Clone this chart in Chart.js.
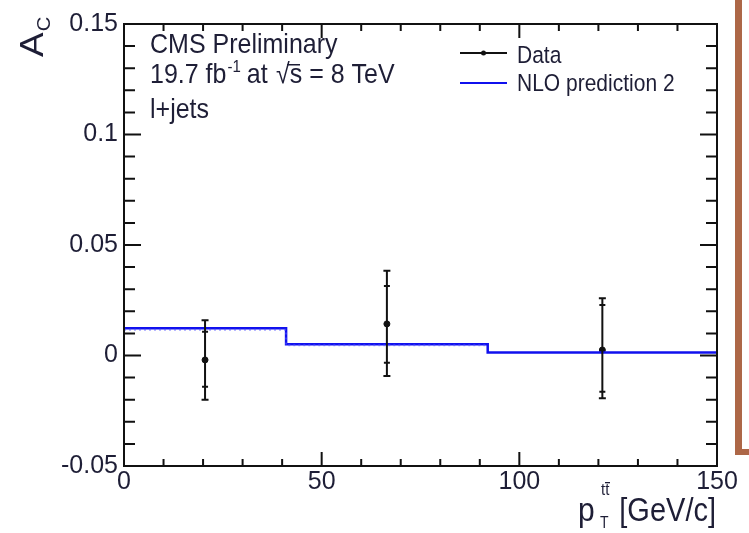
<!DOCTYPE html>
<html>
<head>
<meta charset="utf-8">
<script src="https://cdn.jsdelivr.net/npm/chart.js@4.4.1/dist/chart.umd.min.js"></script>
<style>
  body { margin: 0; background: #fff; }
  #wrap { width: 749px; height: 533px; }
</style>
</head>
<body>
<div id="wrap"><canvas id="acChart" width="749" height="533"></canvas></div>
<script>
    // bins of pT(ttbar) and the NLO prediction per bin
    const binEdges = [0, 41, 92, 150];
    const nloValues = [0.0123, 0.0051, 0.0014];
    const nloShadow = [0.0117, 0.0046];   // faint dotted copy under the first two bins

    // measured points with stat and total uncertainties
    const dataX = [20.5, 66.5, 121];
    const dataY = [-0.002, 0.0143, 0.0025];
    const statLo = [-0.0141, -0.0033, -0.0164];
    const statHi = [0.0108, 0.0314, 0.0229];
    const totLo = [-0.0200, -0.0093, -0.0194];
    const totHi = [0.0160, 0.0384, 0.0259];

    const xTicks = [0, 50, 100, 150];
    const xTickLabels = ['0', '50', '100', '150'];
    const yTicks = [-0.05, 0, 0.05, 0.1, 0.15];
    const yTickLabels = ['-0.05', '0', '0.05', '0.1', '0.15'];

    const FONT = '"Liberation Sans", Arial, sans-serif';
    const TXT = '#1e1e36';

    function stepPoints(edges, vals) {
      const pts = vals.map((v, i) => ({ x: edges[i], y: v }));
      pts.push({ x: edges[vals.length], y: vals[vals.length - 1] });
      return pts;
    }

    // text is a bit taller than plain Arial in the original
    function stretchText(ctx, str, x, y, size, align) {
      ctx.save();
      ctx.translate(x, y);
      ctx.scale(1, 1.12);
      ctx.font = size + 'px ' + FONT;
      ctx.textAlign = align || 'left';
      ctx.textBaseline = 'alphabetic';
      ctx.fillText(str, 0, 0);
      const w = ctx.measureText(str).width;
      ctx.restore();
      return w;
    }

    const framePlugin = {
      id: 'frame',
      afterDraw(chart) {
        const { ctx, chartArea: a, scales: { x, y } } = chart;
        ctx.save();
        ctx.strokeStyle = '#111';
        ctx.lineWidth = 2;
        ctx.strokeRect(a.left, a.top, a.right - a.left, a.bottom - a.top);
        ctx.beginPath();
        for (let v = 0; v <= 150.001; v += 10) {
          const px = x.getPixelForValue(v);
          const len = Math.abs(v % 50) < 0.001 ? 14 : 7;
          ctx.moveTo(px, a.bottom); ctx.lineTo(px, a.bottom - len);
          ctx.moveTo(px, a.top); ctx.lineTo(px, a.top + len);
        }
        for (let k = -5; k <= 15; k++) {
          const py = y.getPixelForValue(k / 100);
          const len = k % 5 === 0 ? 17 : 11;
          ctx.moveTo(a.left, py); ctx.lineTo(a.left + len, py);
          ctx.moveTo(a.right, py); ctx.lineTo(a.right - len, py);
        }
        ctx.stroke();

        // brown slide border at the right
        ctx.fillStyle = '#ad6747';
        ctx.fillRect(735, 0, 7, 455);
        ctx.fillRect(735, 449, 14, 6);

        ctx.fillStyle = TXT;
        // header text
        stretchText(ctx, 'CMS Preliminary', 150, 53, 25);
        let cx = 150;
        cx += stretchText(ctx, '19.7 fb', cx, 83, 25);
        cx += stretchText(ctx, '-1', cx + 1, 72, 15) + 1;
        stretchText(ctx, 'at', cx + 6, 83, 25);
        const sw = stretchText(ctx, '\u221As', 276, 83, 25);
        ctx.fillRect(287, 64, 13, 1.5);
        stretchText(ctx, '= 8 TeV', 276 + sw + 7, 83, 25);
        stretchText(ctx, 'l+jets', 150, 118, 25);

        // legend
        ctx.lineWidth = 2;
        ctx.strokeStyle = '#111';
        ctx.beginPath(); ctx.moveTo(460, 53); ctx.lineTo(507, 53); ctx.stroke();
        ctx.beginPath(); ctx.arc(483.5, 53, 2.5, 0, Math.PI * 2); ctx.fillStyle = '#111'; ctx.fill();
        ctx.strokeStyle = '#1010ee';
        ctx.beginPath(); ctx.moveTo(460, 83); ctx.lineTo(507, 83); ctx.stroke();
        ctx.fillStyle = TXT;
        stretchText(ctx, 'Data', 517, 63, 21);
        stretchText(ctx, 'NLO prediction 2', 517, 91, 21);

        // x axis title: p_T^{tt̄} [GeV/c]
        stretchText(ctx, 'p', 578, 521, 30);
        stretchText(ctx, 'tt', 601, 495, 15);
        ctx.fillRect(605, 482, 5, 1.3);
        stretchText(ctx, 'T', 600, 528, 14);
        stretchText(ctx, '[GeV/c]', 716, 521, 29, 'right');

        // y axis title: A_C (rotated)
        ctx.save();
        ctx.translate(43, 57);
        ctx.rotate(-Math.PI / 2);
        ctx.scale(1.12, 1);
        ctx.font = '33px ' + FONT;
        ctx.textBaseline = 'alphabetic';
        ctx.fillText('A', 0, 0);
        const aw = ctx.measureText('A').width;
        ctx.font = '18px ' + FONT;
        ctx.fillText('C', aw + 1, 7);
        ctx.restore();
        ctx.restore();
      }
    };

    const errorBarPlugin = {
      id: 'errorBars',
      afterDatasetsDraw(chart) {
        const { ctx, scales: { x, y } } = chart;
        ctx.save();
        ctx.strokeStyle = '#111';
        ctx.lineWidth = 2;
        dataX.forEach((xv, i) => {
          const px = x.getPixelForValue(xv);
          const lo = y.getPixelForValue(totLo[i]);
          const hi = y.getPixelForValue(totHi[i]);
          ctx.beginPath();
          ctx.moveTo(px, lo); ctx.lineTo(px, hi);
          ctx.moveTo(px - 3.5, lo); ctx.lineTo(px + 3.5, lo);
          ctx.moveTo(px - 3.5, hi); ctx.lineTo(px + 3.5, hi);
          [statLo[i], statHi[i]].forEach(s => {
            const ps = y.getPixelForValue(s);
            ctx.moveTo(px - 3, ps); ctx.lineTo(px + 3, ps);
          });
          ctx.stroke();
        });
        ctx.restore();
      }
    };

    const ctx = document.getElementById('acChart').getContext('2d');
    new Chart(ctx, {
      type: 'line',
      data: {
        datasets: [
          {
            label: 'NLO shadow',
            data: stepPoints(binEdges, nloShadow),
            stepped: 'before',
            borderColor: 'rgba(90, 90, 255, 0.55)',
            borderWidth: 2,
            borderDash: [2, 3],
            pointRadius: 0
          },
          {
            label: 'NLO prediction 2',
            data: stepPoints(binEdges, nloValues),
            stepped: 'before',
            borderColor: '#1010ee',
            borderWidth: 2.5,
            pointRadius: 0
          },
          {
            label: 'Data',
            data: dataX.map((v, i) => ({ x: v, y: dataY[i] })),
            showLine: false,
            pointRadius: 3,
            pointBackgroundColor: '#111',
            pointBorderColor: '#111'
          }
        ]
      },
      options: {
        responsive: false,
        animation: false,
        devicePixelRatio: 1,
        layout: { padding: { left: 0, right: 32, top: 24, bottom: 0 } },
        plugins: { legend: { display: false }, tooltip: { enabled: false } },
        scales: {
          x: {
            type: 'linear',
            min: 0,
            max: 150,
            grid: { display: false, drawTicks: false },
            border: { display: false },
            afterBuildTicks: s => { s.ticks = xTicks.map(v => ({ value: v })); },
            afterFit: s => { s.height = 67; },
            ticks: {
              padding: 1,
              maxRotation: 0,
              color: TXT,
              font: { family: FONT, size: 25 },
              callback: (v, i) => xTickLabels[i]
            }
          },
          y: {
            type: 'linear',
            min: -0.05,
            max: 0.15,
            grid: { display: false, drawTicks: false },
            border: { display: false },
            afterBuildTicks: s => { s.ticks = yTicks.map(v => ({ value: v })); },
            afterFit: s => { s.width = 124; },
            ticks: {
              padding: 6,
              color: TXT,
              font: { family: FONT, size: 25 },
              callback: (v, i) => yTickLabels[i]
            }
          }
        }
      },
      plugins: [errorBarPlugin, framePlugin]
    });
</script>
</body>
</html>
